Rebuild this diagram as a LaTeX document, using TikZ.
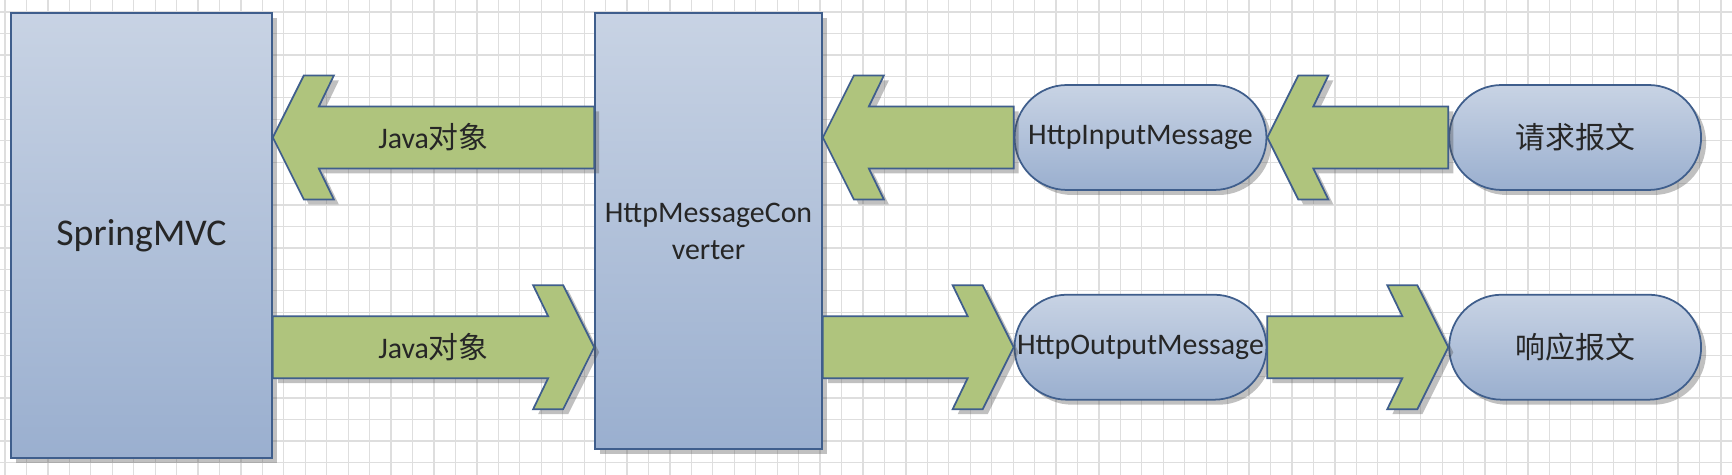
\documentclass[tikz,border=0pt]{standalone}
\usepackage{fontspec}
\setmainfont{Carlito}
\newfontfamily\cjk{Noto Sans CJK SC}
\usepackage{tikz}
\usetikzlibrary{calc,positioning,shapes.misc,shadows}
\definecolor{boxtop}{HTML}{C8D3E4}
\definecolor{boxbot}{HTML}{9AAFCF}
\definecolor{boxline}{HTML}{3F5E8C}
\definecolor{arrfill}{HTML}{AFC47D}
\definecolor{gridline}{HTML}{DEDEDE}
\definecolor{txt}{HTML}{262626}
\tikzset{
  shade/.style={drop shadow={shadow xshift=0.1cm, shadow yshift=-0.1cm, opacity=0.35, fill=black!70}},
  blk/.style={draw=boxline, line width=1pt, top color=boxtop, bottom color=boxbot, text=txt,
    align=center, inner sep=2pt, shade},
  pill/.style={blk, rounded rectangle, minimum width=5.18cm, minimum height=2.1cm,
    font=\fontsize{17}{21}\selectfont},
  fatarr/.style={draw=boxline, line width=1pt, fill=arrfill, line join=miter, shade},
  lbl/.style={font=\fontsize{17}{21}\selectfont, text=txt},
  gridln/.style={draw=gridline, line width=0.7pt},
}
% #1 shaft start, #2 tip, #3 direction (1 right, -1 left), #4 label
\newcommand{\fatarrow}[4]{%
  \draw[fatarr] (#2) -- ++({-31*(#3)},-62) -- ++({-30*(#3)},0) -- ++({15*(#3)},31)
    -- ($(#1)+(0,-31)$) -- ++(0,62) -- ($(#2)+({-46*(#3)},31)$)
    -- ++({-15*(#3)},31) -- ++({30*(#3)},0) -- cycle;
  \path (#1) -- node[lbl] {#4} (#2);
}

\begin{document}
\begin{tikzpicture}[x=0.02cm, y=-0.02cm]

\fill[white] (0,0) rectangle (1732,475);
\useasboundingbox (0,0) rectangle (1732,475);

%% background grid
\foreach \i in {0,...,80}
  \draw[gridln] ({5+21.45*\i},0) -- ++(0,475);
\foreach \j in {0,...,21}
  \draw[gridln] (0,{12+21.45*\j}) -- ++(1732,0);

%% blocks
\node[blk, minimum width=5.22cm, minimum height=8.9cm, font=\fontsize{21.5}{26}\selectfont] (spring) at (141.5, 235.5) {SpringMVC};
\node[blk, minimum width=4.54cm, minimum height=8.72cm, font=\fontsize{17}{21}\selectfont] (conv) at (708.5, 231) {HttpMessageCon\\verter};

\node[pill] (inmsg) at (1140.5, 137.5) {HttpInputMessage};
\node[pill, right=3.62cm of inmsg] (req) {\cjk 请求报文};
\node[pill, below=2.06cm of inmsg] (outmsg) {HttpOutputMessage};
\node[pill, right=3.62cm of outmsg] (resp) {\cjk 响应报文};

%% flows
\fatarrow{conv.west|-inmsg}{spring.east|-inmsg}{-1}{Java{\cjk 对象}}
\fatarrow{spring.east|-outmsg}{conv.west|-outmsg}{1}{Java{\cjk 对象}}
\fatarrow{inmsg.west}{conv.east|-inmsg}{-1}{}
\fatarrow{req.west}{inmsg.east}{-1}{}
\fatarrow{conv.east|-outmsg}{outmsg.west}{1}{}
\fatarrow{outmsg.east}{resp.west}{1}{}

\end{tikzpicture}
\end{document}
